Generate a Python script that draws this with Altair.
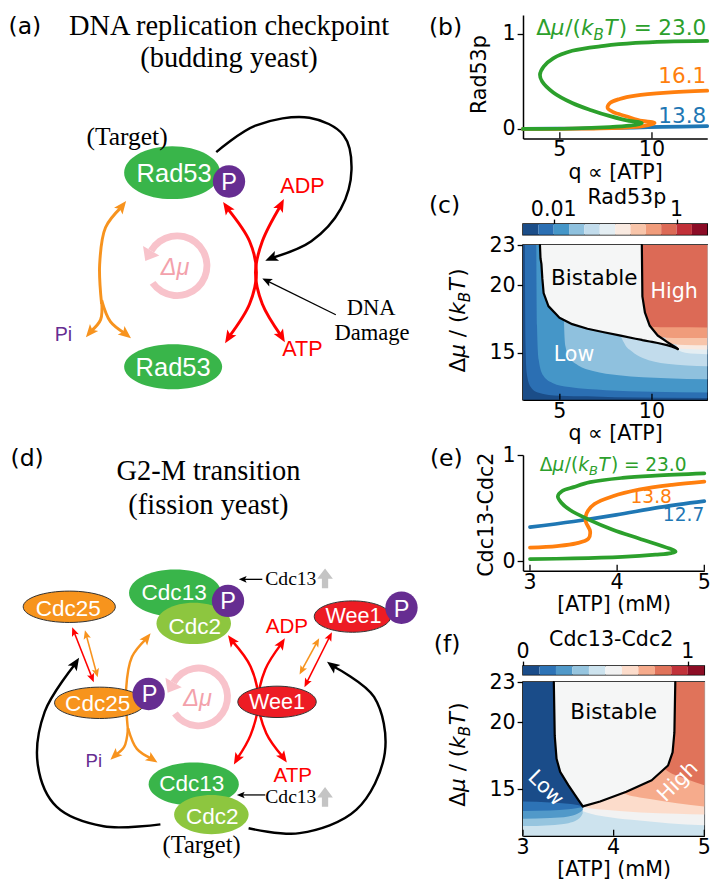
import math
import altair as alt
import pandas as pd

# =====================================================================
# values
# =====================================================================
# (b) Rad53p steady states along q ∝ [ATP]; each pair traces one curve in order
b_q_230 = [3.0, 5.7, 7.7, 8.8, 9.3, 9.45, 9.3, 8.76, 7.73, 6.70, 5.67, 4.64, 4.04,
           3.92, 4.12, 4.64, 5.67, 7.39, 9.11, 10.8, 13.0]
b_v_230 = [0.0, 0.005, 0.02, 0.035, 0.05, 0.062, 0.072, 0.085, 0.135, 0.198, 0.274,
           0.385, 0.50, 0.57, 0.656, 0.743, 0.823, 0.875, 0.906, 0.92, 0.927]
b_q_161 = [3.0, 6.0, 8.5, 9.5, 10.0, 10.14, 10.0, 9.45, 8.59, 7.90, 7.59, 7.73, 8.25,
           9.11, 10.82, 13.0]
b_v_161 = [0.0, 0.003, 0.015, 0.03, 0.05, 0.062, 0.072, 0.085, 0.135, 0.177, 0.222,
           0.274, 0.316, 0.351, 0.382, 0.403]
b_q_138 = [3.0, 6.0, 9.0, 10.5, 13.0]
b_v_138 = [0.0, 0.005, 0.015, 0.022, 0.03]
b_xticks = [5, 10]
b_yticks = [0, 1]

# (c) Rad53p phase diagram
c_cbar_exp = [-2.5, -2.25, -2.0, -1.75, -1.5, -1.25, -1.0, -0.75, -0.5, -0.25, 0.0, 0.25, 0.5]
c_colors = ["#1b4d88", "#2b6fb3", "#4596c8", "#8fc1de", "#c2dcec", "#e4eef3",
            "#f9eae1", "#f8c5aa", "#f09c7b", "#dc6a56", "#c13038", "#8b0c26"]
c_cbar_ticks = [0.01, 1]
c_cbar_labels = ["0.01", "1"]
c_xticks = [5, 10]
c_yticks = [15, 20, 23]
c_band_q = [
    [3.10, 3.13, 3.2, 3.4, 3.8, 5.0, 8.0, 13.0],
    [3.72, 3.76, 3.85, 4.1, 4.6, 5.5, 7.5, 10.0, 13.0],
    [5.18, 5.22, 5.3, 5.55, 6.0, 6.8, 8.2, 10.8, 13.0],
    [8.20, 8.28, 8.5, 8.9, 9.5, 10.8, 13.0],
    [11.38, 11.42, 11.8, 12.4, 13.0],
    [11.30, 11.35, 11.6, 12.3, 13.0],
    [10.70, 10.75, 11.1, 11.8, 13.0],
    [9.60, 9.65, 10.0, 10.45, 11.2, 13.0],
    [9.40, 9.45, 9.9, 11.0, 13.0],
]
c_band_v = [
    [23.0, 16.0, 13.5, 12.5, 12.05, 11.8, 11.7, 11.64],
    [23.0, 17.0, 14.5, 13.3, 12.75, 12.45, 12.22, 12.1, 12.05],
    [23.0, 17.5, 15.5, 14.6, 14.05, 13.65, 13.33, 13.1, 13.02],
    [23.0, 16.5, 15.7, 15.1, 14.6, 14.18, 13.99],
    [23.0, 15.2, 15.0, 14.92, 14.88],
    [23.0, 15.38, 15.29, 15.26, 15.24],
    [23.0, 15.85, 15.65, 15.58, 15.56],
    [23.0, 16.6, 16.35, 16.15, 16.1, 16.09],
    [23.0, 17.2, 16.93, 16.89, 16.88],
]
c_bi_q = [3.92, 3.95, 4.0, 4.05, 4.12, 4.38, 4.98, 5.67, 6.5, 7.39, 8.3, 9.11, 9.45,
          9.48, 9.62, 9.88, 10.0, 10.31, 10.82, 11.1, 11.34, 11.4]
c_bi_lo = [23.0, 22.0, 21.6, 20.5, 19.42, 18.46, 17.6, 17.12, 16.78, 16.52, 16.27, 16.04,
           15.95, 15.94, 15.9, 15.83, 15.8, 15.72, 15.56, 15.45, 15.31, 15.27]
c_bi_hi = [23.0, 23.0, 23.0, 23.0, 23.0, 23.0, 23.0, 23.0, 23.0, 23.0, 23.0, 23.0, 23.0,
           19.18, 17.97, 17.0, 16.75, 16.28, 15.8, 15.6, 15.36, 15.27]
c_right_q = [9.45, 9.48, 9.62, 9.88, 10.31, 10.82, 11.34, 11.4]
c_right_v = [23.0, 19.18, 17.97, 17.0, 16.28, 15.8, 15.36, 15.27]
c_words = ["Bistable", "High", "Low"]
c_word_q = [6.87, 11.2, 5.77]
c_word_v = [20.5, 19.54, 14.83]

# (e) Cdc13-Cdc2 steady states along [ATP]
e_a_127 = [3.0, 3.5, 3.99, 4.48, 5.0]
e_v_127 = [0.32, 0.373, 0.435, 0.506, 0.565]
e_a_138 = [3.0, 3.31, 3.53, 3.67, 3.69, 3.64, 3.65, 3.74, 3.95, 4.25, 4.63, 5.0]
e_v_138 = [0.127, 0.142, 0.167, 0.21, 0.281, 0.373, 0.451, 0.537, 0.611, 0.673, 0.719, 0.75]
e_a_230 = [3.0, 3.5, 4.06, 4.44, 4.62, 4.67, 4.6, 4.25, 3.95, 3.68, 3.46, 3.36, 3.32,
           3.37, 3.50, 3.69, 4.06, 4.44, 5.0]
e_v_230 = [0.019, 0.025, 0.04, 0.06, 0.075, 0.09, 0.118, 0.213, 0.296, 0.389, 0.481,
           0.55, 0.61, 0.66, 0.697, 0.744, 0.784, 0.806, 0.827]
e_xticks = [3, 4, 5]
e_yticks = [0, 1]

# (f) Cdc13-Cdc2 phase diagram
f_cbar_edges = [0.0, 0.1, 0.2, 0.3, 0.4, 0.5, 0.6, 0.7, 0.8, 0.9, 1.0, 1.1]
f_colors = ["#1a4c89", "#2d73b6", "#5199c9", "#96c5df", "#cde3ee", "#f2f2f2",
            "#fcdccb", "#f6ab8c", "#e0735a", "#c1323a", "#8c0d25"]
f_cbar_ticks = [0, 1]
f_cbar_labels = ["0", "1"]
f_xticks = [3, 4, 5]
f_yticks = [15, 20, 23]
f_pink_idx = [5, 6, 7, 8]
f_pink_q = [
    [3.55, 3.58, 3.7, 3.9, 4.2, 4.6, 5.0],
    [3.62, 3.64, 3.7, 3.9, 4.3, 4.7, 5.0],
    [3.98, 4.0, 4.1, 4.4, 4.7, 5.0],
    [4.48, 4.5, 4.56, 4.8, 5.0],
]
f_pink_v = [
    [23.0, 13.6, 13.25, 12.95, 12.7, 12.45, 12.30],
    [23.0, 13.9, 13.6, 13.45, 13.25, 13.15, 13.09],
    [23.0, 15.1, 14.7, 14.25, 13.93, 13.70],
    [23.0, 16.9, 16.52, 15.75, 15.29],
]
f_blue_idx = [3, 2, 1, 0]
f_blue_q = [3.0, 3.3, 3.5, 3.6, 3.66, 3.665]
f_blue_v = [
    [12.23, 12.3, 12.45, 12.7, 13.2, 23.0],
    [12.77, 12.83, 12.95, 13.15, 13.45, 23.0],
    [13.36, 13.4, 13.48, 13.58, 13.68, 23.0],
    [14.07, 14.0, 13.9, 13.8, 13.7, 23.0],
]
f_bi_q = [3.34, 3.345, 3.35, 3.37, 3.41, 3.5, 3.61, 3.66, 3.85, 4.14, 4.42, 4.6, 4.65, 4.67, 4.68]
f_bi_lo = [23.0, 21.0, 18.97, 17.26, 16.28, 15.29, 14.19, 13.70, 14.07, 14.80, 15.66,
           16.76, 17.74, 19.21, 23.0]
f_words = ["Bistable", "Low", "High"]
f_word_q = [4.0, 3.25, 4.71]
f_word_v = [20.68, 15.05, 15.54]

# =====================================================================
# layout (reference pixel frame, shrunk by S so the page fits the window)
# =====================================================================
S = 0.98
SANS, SERIF, DJ = "Liberation Sans", "Liberation Serif", "DejaVu Sans"
COLX = 528
B_TOP, B_H, W_B = 7, 126, 188
CBC_TOP, CBC_H = 219, 11
C_TOP, C_H, W_C = 240, 158, 188
E_TOP, E_H, W_E = 454, 118, 185
CBF_TOP, CBF_H = 668, 9
F_TOP, F_H, W_F = 684, 157, 185
GREEN, ORANGE, BLUE = "#2ca02c", "#ff7f0e", "#1f77b4"
BIST = "#f5f6f6"
FS = 21  # plot font size (reference pixels)

DXS = alt.Scale(domain=[0, 727], range=[-COLX * S, (727 - COLX) * S])
DYS = alt.Scale(domain=[0, 890], range=[0, 890 * S])


def dx(f="x"):
    return alt.X(f + ":Q", scale=DXS, axis=None)


def dy(f="y"):
    return alt.Y(f + ":Q", scale=DYS, axis=None)


def ellipse_path(ar):
    k = 0.5523
    return ("M1,0C1,{0:.4f},{1:.4f},{2:.4f},0,{2:.4f}C{3:.4f},{2:.4f},-1,{0:.4f},-1,0"
            "C-1,{4:.4f},{3:.4f},{5:.4f},0,{5:.4f}C{1:.4f},{5:.4f},1,{4:.4f},1,0Z"
            ).format(k * ar, k, ar, -k, -k * ar, -ar)


HEAD = "M0,0L0.42,1L0,0.78L-0.42,1Z"
HEAD_WIDE = "M0,0L0.8,1L-0.8,1Z"
BLOCK = "M-0.32,1L-0.32,0.05L-0.8,0.05L0,-1L0.8,0.05L0.32,0.05L0.32,1Z"

# ---- diagram geometry (reference pixels) ----
G1, G2, OR, RD, PU = "#39b54a", "#8dc63f", "#f7941d", "#ed1c24", "#662d91"
NODES = [  # cx, cy, rx, ry, fill, outline
    (170, 168, 49, 27, G1, None), (228, 177, 16.5, 16.5, PU, None),
    (171, 366, 50, 23, G1, None),
    (65, 611, 47, 16, OR, "#333333"), (96, 709, 46, 16, OR, "#333333"),
    (146, 700, 16.5, 16.5, PU, None),
    (173, 597, 47, 24, G1, None), (192, 628, 38, 21, G2, None),
    (227, 605, 16.5, 16.5, PU, None),
    (354, 621, 39, 16, RD, "#333333"), (404, 612, 16.5, 16.5, PU, None),
    (277, 708, 40, 16, RD, "#333333"),
    (192, 792, 46, 22, G1, None), (210, 823, 38, 20, G2, None),
]
AO, AR, AK = "#f7931e", "#ff0000", "#000000"
ARROWS = [  # colour, width, points, head at start, head at end, head length
    (AO, 3, [(98, 302), (96, 262), (102, 224), (123, 197)], False, True, 13),
    (AO, 3, [(98, 298), (97, 318), (82, 336)], False, True, 13),
    (AO, 3, [(98, 298), (107, 320), (128, 337)], False, True, 13),
    (AR, 3, [(222, 198), (249, 238), (256, 270), (249, 302), (224, 342)], True, True, 13),
    (AR, 3, [(284, 195), (262, 238), (255, 270), (262, 302), (285, 341)], True, True, 13),
    (AK, 2.5, [(215, 147), (255, 120), (310, 112), (345, 130), (353, 165), (342, 205),
               (312, 238), (265, 258)], False, True, 13),
    (AK, 1.3, [(337, 313), (262, 276)], False, True, 10),
    (AO, 2.5, [(125, 738), (123, 695), (129, 662), (148, 638)], False, True, 12),
    (AO, 2.5, [(125, 735), (121, 754), (107, 767)], False, True, 12),
    (AO, 2.5, [(125, 735), (134, 756), (155, 770)], False, True, 12),
    (AR, 2.5, [(227, 640), (250, 672), (258, 707), (250, 742), (233, 772)], True, True, 12),
    (AR, 2.5, [(285, 643), (265, 675), (258, 707), (266, 740), (287, 770)], True, True, 12),
    (AR, 1.6, [(68, 632), (90, 688)], True, True, 9),
    (AO, 1.6, [(81, 635), (94, 683)], True, True, 9),
    (AO, 1.6, [(300, 680), (320, 643)], True, True, 9),
    (AR, 1.6, [(305, 693), (333, 637)], True, True, 9),
    (AK, 2.5, [(158, 833), (100, 835), (52, 815), (33, 773), (40, 718), (75, 663)], False, True, 13),
    (AK, 2.5, [(248, 837), (300, 842), (358, 818), (387, 760), (376, 703), (328, 667)], False, True, 13),
    (AK, 1.3, [(262, 583), (238, 583)], False, True, 8),
    (AK, 1.3, [(265, 803), (236, 803)], False, True, 8),
]
DMU_CENTERS = [(175, 263, 34, 27), (197, 703, 33, 26)]
PINK, PINK_TXT = "#f8c3cb", "#f3a1ab"

# ---- text rows (positions and sizes in reference pixels) ----
sans_rows, sans_it_rows, serif_c_rows, serif_l_rows = [], [], [], []
dj_rows, dj_it_rows, dj_r_rows, dj_c_rows = [], [], [], []


def ctext(rows, t, cx, cy, s, c):
    rows.append(dict(x=cx, y=cy + 0.36 * s, t=t, s=s, c=c))


for t, cx, cy, s in [("Rad53", 172, 168, 26), ("P", 228, 177, 24), ("Rad53", 171, 366, 26),
                     ("Cdc25", 64, 612, 23), ("Cdc25", 94, 709, 23), ("P", 147, 700, 24),
                     ("Cdc13", 172, 596, 23), ("Cdc2", 193, 630, 23), ("P", 227, 605, 24),
                     ("Wee1", 355, 620, 22), ("P", 404, 613, 24), ("Wee1", 277, 707, 22),
                     ("Cdc13", 190, 791, 23), ("Cdc2", 211, 824, 23)]:
    ctext(sans_rows, t, cx, cy, s, "white")
for t, cx, cy, s in [("ADP", 303, 181, 22), ("ATP", 303, 347, 22),
                     ("ADP", 287, 630, 21), ("ATP", 293, 782, 21)]:
    ctext(sans_rows, t, cx, cy, s, "#ff0000")
ctext(sans_rows, "Pi", 59, 333, 20, PU)
ctext(sans_rows, "Pi", 90, 768, 19, PU)
for cx, cy in [(173, 264), (196, 704)]:
    ctext(sans_it_rows, "Δμ", cx, cy, 24, PINK_TXT)
for t, x, y, s in [("DNA replication checkpoint", 228, 28, 29), ("(budding yeast)", 228, 60, 29),
                   ("G2-M transition", 207, 482, 29), ("(fission yeast)", 207, 516, 29),
                   ("(Target)", 124, 140, 26), ("(Target)", 200, 862, 25),
                   ("DNA", 373, 313, 23), ("Damage", 374, 339, 23)]:
    serif_c_rows.append(dict(x=x, y=y, t=t, s=s, c="black"))
for y in [589, 811]:
    serif_l_rows.append(dict(x=265, y=y, t="Cdc13", s=20, c="black"))
for t, x, y in [("(a)", 3, 26.5), ("(b)", 432, 27.5), ("(c)", 432, 209.5),
                ("(d)", 5, 467.5), ("(e)", 433, 467.5), ("(f)", 437, 657.5)]:
    dj_rows.append(dict(x=x, y=y, t=t, s=24, c="black", a=0))

DJW = {"Δ": 0.684, "μ": 0.636, "/": 0.337, "(": 0.390, ")": 0.390, "k": 0.579, "B": 0.686,
       "T": 0.611, " ": 0.318, "=": 0.838, ".": 0.318}
for d in "0123456789":
    DJW[d] = 0.636


def pieces(parts, x0, y0, size, color, angle=0, right=False):
    """parts: (text, italic, scale, subscript drop, gap before) in em units."""
    adv = [(g * size, sum(DJW.get(ch, 0.6) for ch in t) * size * sc) for t, it, sc, sub, g in parts]
    pos = -sum(g + w for g, w in adv) if right else 0.0
    for (t, it, sc, sub, g), (gp, w) in zip(parts, adv):
        pos += gp
        off = sub * size
        x, y = (x0 + pos, y0 + off) if angle == 0 else (x0 + off, y0 - pos)
        (dj_it_rows if it else dj_rows).append(dict(x=x, y=y, t=t, s=size * sc, c=color, a=angle))
        pos += w


EQ = [("Δ", 0, 1, 0, 0), ("μ", 1, 1, 0, 0), ("/(", 0, 1, 0, 0.03), ("k", 1, 1, 0, 0),
      ("B", 1, 0.7, 0.22, 0), ("T", 1, 1, 0, 0.03), (")", 0, 1, 0, 0.06),
      ("=", 0, 1, 0, 0.3), ("23.0", 0, 1, 0, 0.3)]
YT = [("Δ", 0, 1, 0, 0), ("μ", 1, 1, 0, 0), ("/", 0, 1, 0, 0.32), ("(", 0, 1, 0, 0.32),
      ("k", 1, 1, 0, 0), ("B", 1, 0.7, 0.22, 0), ("T", 1, 1, 0, 0.03), (")", 0, 1, 0, 0.06)]
pieces(EQ, COLX + W_B - 1, 28, 22, GREEN, right=True)
pieces(EQ, 545, 472, 19, GREEN)
pieces(YT, 469, 372, 22, "black", angle=270)
pieces(YT, 469, 815, 22, "black", angle=270)
dj_r_rows += [dict(x=COLX + W_B - 1, y=77, t="16.1", s=22, c=ORANGE, a=0),
              dict(x=COLX + W_B - 1, y=117, t="13.8", s=22, c=BLUE, a=0),
              dict(x=680, y=505, t="13.8", s=19, c=ORANGE, a=0),
              dict(x=COLX + W_E, y=523, t="12.7", s=19, c=BLUE, a=0)]
dj_c_rows += [dict(x=490, y=68, t="Rad53p", s=21, c="black", a=270),
              dict(x=497, y=517, t="Cdc13-Cdc2", s=21, c="black", a=270)]

# ---- build diagram marks ----
line_rows, head_rows = [], []
for aid, (col, w, pts, hs, he, L) in enumerate(ARROWS):
    p = [list(q) for q in pts]
    ends = []
    if he:
        ends.append((pts[-1], pts[-2], -1))
    if hs:
        ends.append((pts[0], pts[1], 0))
    for (x1, y1), (x0, y0), idx in ends:
        d = math.hypot(x1 - x0, y1 - y0)
        ux, uy = (x1 - x0) / d, (y1 - y0) / d
        head_rows.append(dict(x=x1, y=y1, a=math.degrees(math.atan2(ux, -uy)) % 360,
                              s=4 * (L * S) ** 2, c=col))
        p[idx] = [x1 - ux * 0.6 * L, y1 - uy * 0.6 * L]
    for i, (x, y) in enumerate(p):
        line_rows.append(dict(id=aid, o=i, x=x, y=y, c=col, w=w * S))

node_rows = []
for cx, cy, rx, ry, fill, outl in NODES:
    node_rows.append(dict(x=cx, y=cy, p=ellipse_path(ry / rx), s=4 * (rx * S) ** 2, f=fill,
                          st=outl or fill, sw=1.0 if outl else 0.0))

pink_heads = []
TH0 = math.radians(300)
for cx, cy, ro, ri in DMU_CENTERS:
    rm = (ro + ri) / 2
    bx, by = cx + rm * math.sin(TH0), cy - rm * math.cos(TH0)
    ux, uy = -math.cos(TH0), -math.sin(TH0)
    pink_heads.append(dict(x=bx + 12 * ux, y=by + 12 * uy,
                           a=math.degrees(math.atan2(ux, -uy)) % 360, s=4 * (12 * S) ** 2))

diag_layers = []
for cx, cy, ro, ri in DMU_CENTERS:
    diag_layers.append(alt.Chart(pd.DataFrame({"x": [cx], "y": [cy]})).mark_arc(
        color=PINK, theta=math.radians(300), theta2=math.radians(595), radius=ro * S, radius2=ri * S
    ).encode(x=dx(), y=dy()))
diag_layers.append(alt.Chart(pd.DataFrame(pink_heads)).mark_point(
    shape=HEAD_WIDE, filled=True, opacity=1, color=PINK).encode(
    x=dx(), y=dy(), size=alt.Size("s:Q", scale=None), angle=alt.Angle("a:Q", scale=None)))
diag_layers.append(alt.Chart(pd.DataFrame(line_rows)).mark_line(
    interpolate="catmull-rom", strokeCap="butt", strokeJoin="round").encode(
    x=dx(), y=dy(), detail="id:N", order="o:Q", color=alt.Color("c:N", scale=None),
    strokeWidth=alt.StrokeWidth("w:Q", scale=None)))
diag_layers.append(alt.Chart(pd.DataFrame(node_rows)).mark_point(filled=True, opacity=1).encode(
    x=dx(), y=dy(), shape=alt.Shape("p:N", scale=None), size=alt.Size("s:Q", scale=None),
    fill=alt.Fill("f:N", scale=None), stroke=alt.Stroke("st:N", scale=None),
    strokeWidth=alt.StrokeWidth("sw:Q", scale=None)))
diag_layers.append(alt.Chart(pd.DataFrame(head_rows)).mark_point(
    shape=HEAD, filled=True, opacity=1).encode(
    x=dx(), y=dy(), size=alt.Size("s:Q", scale=None), angle=alt.Angle("a:Q", scale=None),
    fill=alt.Fill("c:N", scale=None)))
diag_layers.append(alt.Chart(pd.DataFrame({"x": [326, 326], "y": [582, 805]})).mark_point(
    shape=BLOCK, filled=True, opacity=1, color="#c4c4c4", size=400 * S * S).encode(x=dx(), y=dy()))


def tlayer(rows, font, align, style="normal"):
    df = pd.DataFrame(rows)
    df["s"] = df["s"] * S
    enc = dict(x=dx(), y=dy(), text="t:N", size=alt.Size("s:Q", scale=None),
               color=alt.Color("c:N", scale=None))
    if "a" in df.columns:
        enc["angle"] = alt.Angle("a:Q", scale=None)
    return alt.Chart(df).mark_text(font=font, align=align, baseline="alphabetic",
                                   fontStyle=style).encode(**enc)


diag_layers += [tlayer(sans_rows, SANS, "center"), tlayer(sans_it_rows, SANS, "center", "italic"),
                tlayer(serif_c_rows, SERIF, "center"), tlayer(serif_l_rows, SERIF, "left"),
                tlayer(dj_rows, DJ, "left"), tlayer(dj_it_rows, DJ, "left", "italic"),
                tlayer(dj_r_rows, DJ, "right"), tlayer(dj_c_rows, DJ, "center")]
diagram = alt.layer(*diag_layers).properties(width=W_B * S, height=B_TOP * S)

# =====================================================================
# plot helpers
# =====================================================================
def xaxis(title):
    # tick labels are drawn as text marks below; the axis keeps spine and title
    return alt.Axis(labels=False, ticks=False, title=title, titlePadding=24 * S)


def yaxis(vals):
    return alt.Axis(values=vals, tickSize=6 * S, labelPadding=2 * S, title=None, format="d",
                    labelOverlap=False)


def enc_xy(Xs, Ys, xax, yax):
    return dict(x=alt.X("x:Q", scale=Xs, axis=xax), y=alt.Y("y:Q", scale=Ys, axis=yax))


def xlabels(vals, H, Xs, xax):
    df = pd.DataFrame({"x": vals, "t": [str(v) for v in vals]})
    return alt.Chart(df).mark_text(font=DJ, fontSize=FS * S, baseline="top", align="center").encode(
        x=alt.X("x:Q", scale=Xs, axis=xax), y=alt.value((H + 2) * S), text="t:N")


def curve(q, v, color, Xs, Ys, xax, yax):
    df = pd.DataFrame({"x": q, "y": v, "o": list(range(len(q)))})
    return alt.Chart(df).mark_line(color=color, strokeWidth=3.8 * S, interpolate="catmull-rom",
                                   strokeCap="round", strokeJoin="round").encode(
        order="o:Q", **enc_xy(Xs, Ys, xax, yax))


def inward_ticks(vals, y0, y1, Xs, Ys, xax, yax):
    df = pd.DataFrame({"x": vals, "y": [y0] * len(vals), "y2": [y1] * len(vals)})
    return alt.Chart(df).mark_rule(color="black", strokeWidth=1.3).encode(
        y2="y2:Q", **enc_xy(Xs, Ys, xax, yax))


def band(q, v, color, Xs, Ys, xax, yax):
    df = pd.DataFrame({"x": q, "y": v, "y2": [23.0] * len(q)})
    return alt.Chart(df).mark_area(color=color, interpolate="monotone", opacity=1).encode(
        y2="y2:Q", **enc_xy(Xs, Ys, xax, yax))


def region(q, lo, hi, color, Xs, Ys, xax, yax):
    df = pd.DataFrame({"x": q, "y": lo, "y2": hi})
    return alt.Chart(df).mark_area(color=color, interpolate="linear", opacity=1).encode(
        y2="y2:Q", **enc_xy(Xs, Ys, xax, yax))


def black_line(q, v, Xs, Ys, xax, yax):
    df = pd.DataFrame({"x": q, "y": v, "o": list(range(len(q)))})
    return alt.Chart(df).mark_line(color="black", strokeWidth=2.2, interpolate="linear",
                                   strokeJoin="round", strokeCap="round").encode(
        order="o:Q", **enc_xy(Xs, Ys, xax, yax))


def words(ws, qs, vs, color, Xs, Ys, xax, yax, size=22, angle=0):
    df = pd.DataFrame({"x": qs, "y": vs, "t": ws})
    return alt.Chart(df).mark_text(font=DJ, fontSize=size * S, color=color, angle=angle,
                                   baseline="middle", align="center").encode(
        text="t:N", **enc_xy(Xs, Ys, xax, yax))


def spacer(h):
    return alt.Chart(pd.DataFrame({"v": [0]})).mark_rect(opacity=0).encode(
        x=alt.value(0), x2=alt.value(1), y=alt.value(0), y2=alt.value(1)).properties(width=1, height=h * S)


def colorbar(lo, hi, colors, Xs, ticks, labels, title, title_x, W, H):
    ax = alt.Axis(orient="top", values=ticks, tickSize=5 * S, labels=False, domain=False, title=None)
    rect = alt.Chart(pd.DataFrame({"x": lo, "x2": hi, "c": colors})).mark_rect().encode(
        x=alt.X("x:Q", scale=Xs, axis=ax), x2="x2:Q", color=alt.Color("c:N", scale=None))
    labs = alt.Chart(pd.DataFrame({"x": ticks, "t": labels})).mark_text(
        font=DJ, fontSize=FS * S, baseline="middle", align="center").encode(
        x=alt.X("x:Q", scale=Xs, axis=ax), y=alt.value(-14.5 * S), text="t:N")
    ttl = alt.Chart(pd.DataFrame({"t": [title]})).mark_text(
        font=DJ, fontSize=FS * S, baseline="middle", align="center").encode(
        x=alt.value(title_x * S), y=alt.value(-27 * S), text="t:N")
    return alt.layer(rect, labs, ttl).properties(width=W * S, height=H * S, view=FRAME)


FRAME = alt.ViewBackground(stroke="black", strokeWidth=1.5)

# ---- (b) ----
bX = alt.Scale(domain=[3, 13], nice=False, zero=False)
bY = alt.Scale(domain=[-0.1, 1.2], nice=False, zero=False)
bxa, bya = xaxis("q ∝ [ATP]"), yaxis(b_yticks)
chart_b = alt.layer(
    inward_ticks(b_xticks, -0.1, -0.035, bX, bY, bxa, bya),
    curve(b_q_138, b_v_138, BLUE, bX, bY, bxa, bya),
    curve(b_q_161, b_v_161, ORANGE, bX, bY, bxa, bya),
    curve(b_q_230, b_v_230, GREEN, bX, bY, bxa, bya),
    xlabels(b_xticks, B_H, bX, bxa),
).properties(width=W_B * S, height=B_H * S)

# ---- (c) colour bar ----
cb_c = colorbar([10 ** e for e in c_cbar_exp[:-1]], [10 ** e for e in c_cbar_exp[1:]], c_colors,
                alt.Scale(type="log", domain=[10 ** c_cbar_exp[0], 10 ** c_cbar_exp[-1]], nice=False),
                c_cbar_ticks, c_cbar_labels, "Rad53p", 106, W_C, CBC_H)

# ---- (c) phase diagram ----
cX = alt.Scale(domain=[3, 13], nice=False, zero=False)
cY = alt.Scale(domain=[11.5, 23], nice=False, zero=False)
cxa, cya = xaxis("q ∝ [ATP]"), yaxis(c_yticks)
c_layers = [region([3, 13], [11.5, 11.5], [23, 23], c_colors[0], cX, cY, cxa, cya)]
for k in range(len(c_band_q)):
    c_layers.append(band(c_band_q[k], c_band_v[k], c_colors[k + 1], cX, cY, cxa, cya))
c_layers += [
    region(c_bi_q, c_bi_lo, c_bi_hi, BIST, cX, cY, cxa, cya),
    black_line(c_bi_q, c_bi_lo, cX, cY, cxa, cya),
    black_line(c_right_q, c_right_v, cX, cY, cxa, cya),
    inward_ticks(c_xticks, 11.5, 11.95, cX, cY, cxa, cya),
    words(c_words[:1], c_word_q[:1], c_word_v[:1], "black", cX, cY, cxa, cya),
    words(c_words[1:], c_word_q[1:], c_word_v[1:], "white", cX, cY, cxa, cya, size=21),
    xlabels(c_xticks, C_H, cX, cxa),
]
chart_c = alt.layer(*c_layers).properties(width=W_C * S, height=C_H * S, view=FRAME)

# ---- (e) ----
eX = alt.Scale(domain=[2.92, 5.0], nice=False, zero=False)
eY = alt.Scale(domain=[-0.09, 1.0], nice=False, zero=False)
exa, eya = xaxis("[ATP] (mM)"), yaxis(e_yticks)
chart_e = alt.layer(
    inward_ticks(e_xticks, -0.09, -0.035, eX, eY, exa, eya),
    curve(e_a_127, e_v_127, BLUE, eX, eY, exa, eya),
    curve(e_a_138, e_v_138, ORANGE, eX, eY, exa, eya),
    curve(e_a_230, e_v_230, GREEN, eX, eY, exa, eya),
    xlabels(e_xticks, E_H, eX, exa),
).properties(width=W_E * S, height=E_H * S)

# ---- (f) colour bar ----
cb_f = colorbar(f_cbar_edges[:-1], f_cbar_edges[1:], f_colors,
                alt.Scale(domain=[f_cbar_edges[0], f_cbar_edges[-1]], nice=False, zero=False),
                f_cbar_ticks, f_cbar_labels, "Cdc13-Cdc2", 90, W_F, CBF_H)

# ---- (f) phase diagram ----
fX = alt.Scale(domain=[3, 5], nice=False, zero=False)
fY = alt.Scale(domain=[11.5, 23], nice=False, zero=False)
fxa, fya = xaxis("[ATP] (mM)"), yaxis(f_yticks)
f_layers = [region([3, 5], [11.5, 11.5], [23, 23], f_colors[4], fX, fY, fxa, fya)]
for idx, q, v in zip(f_pink_idx, f_pink_q, f_pink_v):
    f_layers.append(band(q, v, f_colors[idx], fX, fY, fxa, fya))
for idx, v in zip(f_blue_idx, f_blue_v):
    f_layers.append(band(f_blue_q, v, f_colors[idx], fX, fY, fxa, fya))
f_layers += [
    region(f_bi_q, f_bi_lo, [23.0] * len(f_bi_q), BIST, fX, fY, fxa, fya),
    black_line(f_bi_q[:8], f_bi_lo[:8], fX, fY, fxa, fya),
    black_line(f_bi_q[7:], f_bi_lo[7:], fX, fY, fxa, fya),
    inward_ticks(f_xticks, 11.5, 11.95, fX, fY, fxa, fya),
    words(f_words[:1], f_word_q[:1], f_word_v[:1], "black", fX, fY, fxa, fya),
    words(f_words[1:2], f_word_q[1:2], f_word_v[1:2], "white", fX, fY, fxa, fya, size=21, angle=45),
    words(f_words[2:], f_word_q[2:], f_word_v[2:], "white", fX, fY, fxa, fya, size=21, angle=315),
    xlabels(f_xticks, F_H, fX, fxa),
]
chart_f = alt.layer(*f_layers).properties(width=W_F * S, height=F_H * S, view=FRAME)

# =====================================================================
# assemble: one flush column; the diagram hangs off its first cell
# =====================================================================
slots = [
    diagram,
    chart_b,
    spacer(CBC_TOP - (B_TOP + B_H)),
    cb_c,
    spacer(C_TOP - (CBC_TOP + CBC_H)),
    chart_c,
    spacer(E_TOP - (C_TOP + C_H)),
    chart_e,
    spacer(CBF_TOP - (E_TOP + E_H)),
    cb_f,
    spacer(F_TOP - (CBF_TOP + CBF_H)),
    chart_f,
]
chart = alt.vconcat(*slots, spacing=0, bounds="flush", padding=0).configure_view(
    stroke=None
).configure_axis(
    labelFont=DJ, titleFont=DJ, labelFontSize=FS * S, titleFontSize=FS * S, labelColor="black",
    titleColor="black", domainColor="black", tickColor="black", domainWidth=1.5, tickWidth=1.3,
    grid=False, titleFontWeight="normal", labelFlush=False, labelOverlap=False
)
chart.save("out.html", embed_options={"renderer": "svg", "actions": False})
